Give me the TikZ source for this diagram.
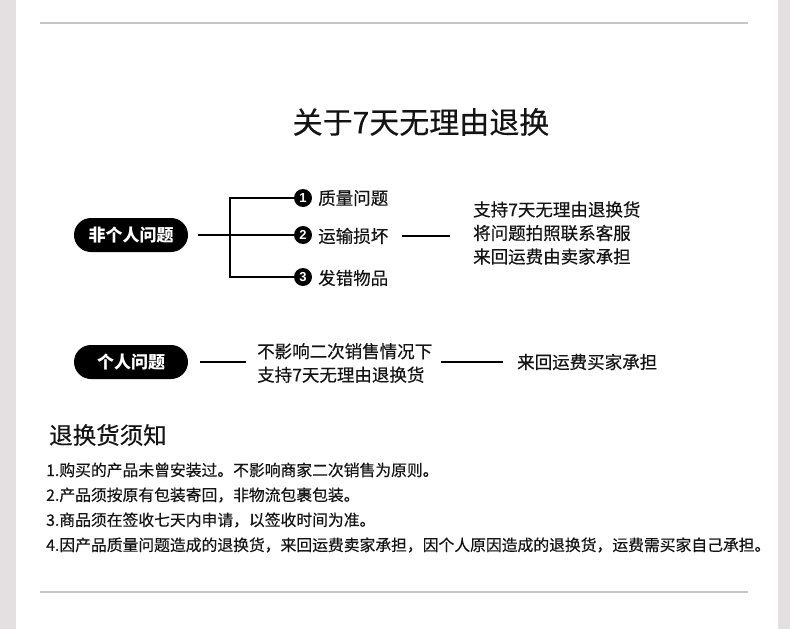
\documentclass[tikz,border=0pt]{standalone}
\usepackage{fontspec}
\setmainfont{Noto Sans CJK SC}[UprightFeatures={FakeBold=0.35}]
\newfontfamily\numfont{Liberation Sans}[UprightFeatures={FakeBold=1}]
\definecolor{bargray}{HTML}{E4E0E1}
\definecolor{rulegray}{HTML}{C8C8C8}
\definecolor{ink}{HTML}{141414}
\begin{document}
\begin{tikzpicture}[x=1pt,y=-1pt,
  pill/.style={fill=black,text=white,rounded corners=17pt,minimum width=114pt,minimum height=34pt,inner sep=0pt,font=\fontsize{17}{20}\selectfont\bfseries},
  num/.style={circle,fill=black,text=white,minimum size=18pt,inner sep=0pt,outer sep=0pt,font=\numfont\fontsize{13}{13}\selectfont\bfseries},
  lbl/.style={anchor=west,inner sep=0pt,text=ink,font=\fontsize{17.5}{20}\selectfont},
  blk/.style={anchor=west,inner sep=0pt,text=ink,align=left,font=\fontsize{17.5}{23.5}\selectfont},
  note/.style={anchor=west,inner sep=0pt,text=ink,font=\fontsize{15.8}{18}\selectfont},
  conn/.style={line width=1.6pt,black}]
\useasboundingbox (0,0) rectangle (790,629);
\fill[white] (0,0) rectangle (790,629);
\fill[bargray] (0,0) rectangle (16,629);
\fill[bargray] (778,0) rectangle (790,629);
\draw[rulegray,line width=1.2pt] (40,23) -- (748,23);
\draw[rulegray,line width=1.2pt] (40,592) -- (748,592);

\node[inner sep=0pt,text=ink,font=\fontsize{30}{34}\selectfont] (title) at (421,122) {关于7天无理由退换};

% row 1
\node[pill] (p1) at (131,235) {非个人问题};
\node[lbl] (l1) at (318,198) {质量问题};
\node[lbl] (l2) at (318,236) {运输损坏};
\node[lbl] (l3) at (318,278) {发错物品};
\node[num] (c1) at (303,198) {1};
\node[num] (c2) at (303,235) {2};
\node[num] (c3) at (303,277) {3};
\coordinate (j1) at (230,235);
\draw[conn] ([xshift=10pt]p1.east) -- (c2.west);
\draw[conn] (c1.west) -| (j1) |- (c3.west);
\node[blk] (r1) at (473,233) {支持7天无理由退换货\\将问题拍照联系客服\\来回运费由卖家承担};
\draw[conn] ([xshift=14pt]l2.east) -- ([xshift=-23pt]l2.east -| r1.west);

% row 2
\node[pill] (p2) at (131,362) {个人问题};
\node[blk] (m2) at (257,363) {不影响二次销售情况下\\支持7天无理由退换货};
\node[lbl] (r2) at (517,362) {来回运费买家承担};
\draw[conn] ([xshift=12pt]p2.east) -- ([xshift=-11pt]p2.east -| m2.west);
\draw[conn] ([xshift=9pt]p2.east -| m2.east) -- ([xshift=-14pt]r2.west);

% notice
\node[inner sep=0pt,anchor=west,text=ink,font=\fontsize{23.5}{26}\selectfont] (h) at (49,435) {退换货须知};
\node[note] (n1) at (46,470) {1.购买的产品未曾安装过。不影响商家二次销售为原则。};
\node[note] (n2) at (46,495) {2.产品须按原有包装寄回，非物流包裹包装。};
\node[note] (n3) at (46,520) {3.商品须在签收七天内申请，以签收时间为准。};
\node[note] (n4) at (46,545) {4.因产品质量问题造成的退换货，来回运费卖家承担，因个人原因造成的退换货，运费需买家自己承担。};
\end{tikzpicture}
\end{document}
